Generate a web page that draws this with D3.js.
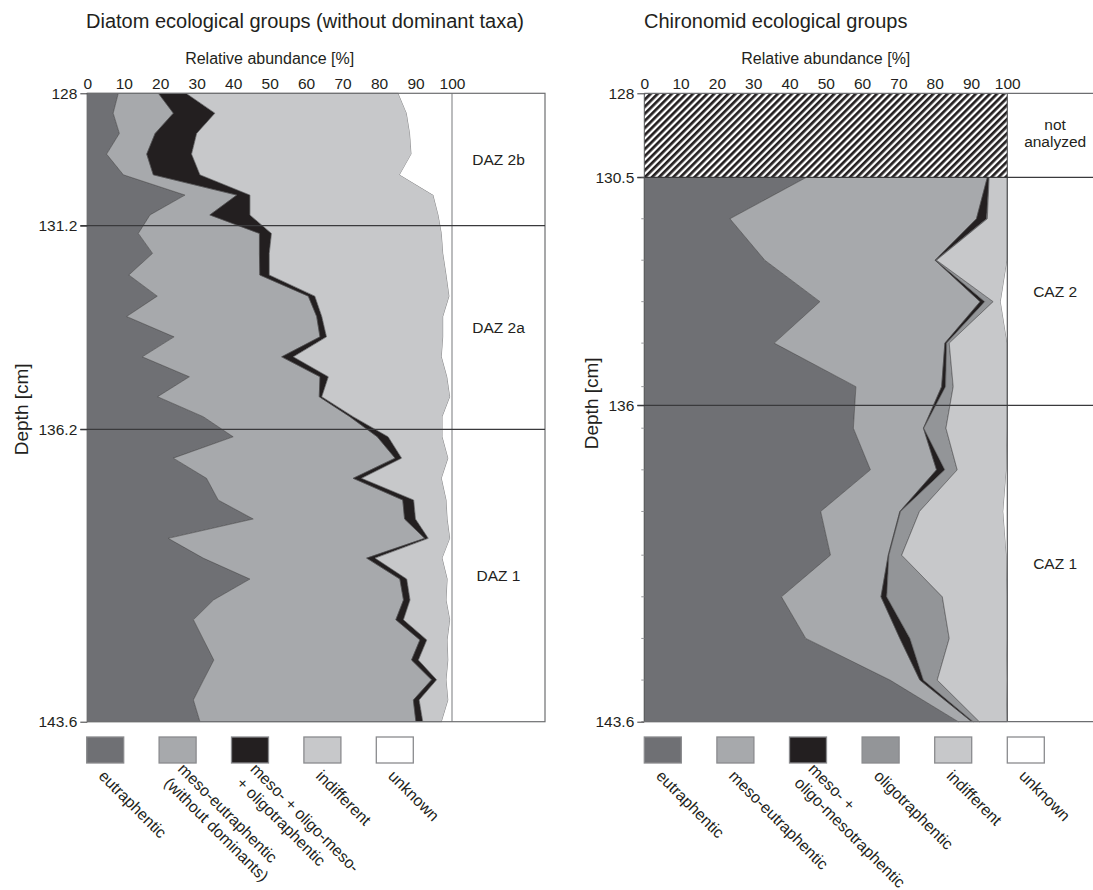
<!DOCTYPE html>
<html><head><meta charset="utf-8">
<script src="https://cdn.jsdelivr.net/npm/d3@7"></script>
<style>
body{margin:0;background:#fff}
svg{display:block}
text{font-family:"Liberation Sans",Arial,Helvetica,sans-serif;fill:#231f20}
</style>
</head><body>
<svg id="chart" width="1093" height="890"></svg>
<script>
// ---------- DATA ----------
// Diatom samples (depth, cm)
const diatomDepths = [128.00,128.48,128.97,129.47,129.97,130.46,130.94,131.39,131.88,132.41,132.93,133.43,133.93,134.42,134.91,135.40,135.89,136.39,136.93,137.44,137.99,138.47,138.96,139.46,139.99,140.52,141.02,141.53,142.04,142.54,143.05,143.60];
const diatomEutraphentic = [8.5,7.1,8.8,5.3,9.9,26.8,17.2,14.0,17.9,11.4,19.2,10.8,23.8,15.1,28.0,19.3,31.8,40.0,23.6,32.7,35.9,45.5,22.2,31.8,44.6,34.6,29.1,31.9,34.7,31.9,29.1,30.9];
const diatomMesoEutraphentic = [11.0,16.5,9.8,11.0,8.2,14.2,16.4,33.2,29.3,35.9,41.4,52.1,40.0,38.2,35.8,44.3,40.2,39.5,60.8,40.2,50.6,41.5,70.3,44.8,41.1,52.1,55.5,59.3,54.2,62.5,60.3,59.2];
const diatomMesoOligo = [7.6,11.4,11.4,12.3,12.8,3.6,11.0,3.3,2.7,2.6,1.8,1.4,1.8,3.2,2.3,0.7,0.9,3.0,1.8,2.3,3.0,3.0,1.0,2.3,1.9,1.8,2.1,1.9,1.9,1.4,1.6,1.9];
const diatomIndifferent = [58.2,52.6,58.5,60.3,54.8,50.3,51.7,46.7,47.7,48.6,36.9,33.3,32.0,40.7,32.6,35.2,24.5,14.9,12.8,22.0,9.0,8.8,6.0,18.5,11.2,10.0,12.8,5.7,8.2,2.7,8.0,5.2];
const diatomUnknown = [14.7,12.4,11.5,11.1,14.3,5.1,3.7,2.8,2.4,1.5,0.7,2.4,2.4,2.8,1.3,0.5,2.6,2.6,1.0,2.8,1.5,1.2,0.5,2.6,1.2,1.5,0.5,1.2,1.0,1.5,1.0,2.8];
const diatomZoneBounds = [131.2,136.2];
const diatomZones = [{name:"DAZ 2b",from:128,to:131.2},{name:"DAZ 2a",from:131.2,to:136.2},{name:"DAZ 1",from:136.2,to:143.6}];
const diatomDepthTicks = [128,131.2,136.2,143.6];

// Chironomid samples
const chiroDepths = [130.5,131.5,132.5,133.5,134.5,135.55,136.55,137.55,138.55,139.6,140.6,141.6,142.6,143.6];
const chiroEutraphentic = [44.7,23.6,33.2,48.4,35.8,58.3,57.6,62.3,48.6,51.3,37.8,44.5,67.7,86.5];
const chiroMesoEutraphentic = [49.8,67.9,46.9,44.1,47.0,23.6,19.3,18.2,21.8,15.9,27.4,25.9,8.2,3.7];
const chiroMesoOligoMeso = [0.5,2.8,0.2,1.3,0.5,1.1,0.1,2.3,0.2,0.2,1.6,2.8,1.0,0.4];
const chiroOligotraphentic = [0.0,0.2,0.2,2.3,0.7,2.1,6.1,3.4,5.2,3.5,15.3,10.8,3.8,1.7];
const chiroIndifferent = [5.0,5.5,19.5,2.1,16.0,14.9,16.9,13.6,23.1,28.9,17.9,16.0,19.1,7.7];
const chiroUnknown = [0,0,0,1.8,0,0,0,0.2,1.1,0.2,0,0,0.2,0];
const chiroNotAnalyzed = [128,130.5];
const chiroZoneBounds = [130.5,136];
const chiroZones = [{name:"CAZ 2",from:130.5,to:136},{name:"CAZ 1",from:136,to:143.6}];
const chiroDepthTicks = [128,130.5,136,143.6];

const xTicks = [0,10,20,30,40,50,60,70,80,90,100];

const diatomLegend = [
  {key:"eu", lines:["eutraphentic"]},
  {key:"me", lines:["meso-eutraphentic","(without dominants)"]},
  {key:"mo", lines:["meso- + oligo-meso-","+ oligotraphentic"]},
  {key:"in", lines:["indifferent"]},
  {key:"un", lines:["unknown"]}
];
const chiroLegend = [
  {key:"eu", lines:["eutraphentic"]},
  {key:"me", lines:["meso-eutraphentic"]},
  {key:"mo", lines:["meso- +","oligo-mesotraphentic"]},
  {key:"ol", lines:["oligotraphentic"]},
  {key:"in", lines:["indifferent"]},
  {key:"un", lines:["unknown"]}
];

// ---------- STYLE ----------
const colors = {eu:"#6f7074", me:"#a7a9ac", mo:"#231f20", ol:"#939598", in:"#c7c8ca", un:"#ffffff"};

const svg = d3.select("#chart");
const defs = svg.append("defs");
const pat = defs.append("pattern").attr("id","hatch").attr("width",5).attr("height",5)
  .attr("patternUnits","userSpaceOnUse").attr("patternTransform","rotate(45)");
pat.append("rect").attr("width",5).attr("height",5).attr("fill","#fff");
pat.append("rect").attr("width",2.7).attr("height",5).attr("fill","#231f20");

function drawPanel(opt){
  const g = svg.append("g");
  const x = d3.scaleLinear().domain([0,100]).range([opt.x0, opt.x1]);
  const y = d3.scaleLinear().domain(opt.yDomain).range(opt.yRange);
  const rows = opt.depths.map((d,i)=>{
    const r = {depth:d};
    opt.keys.forEach(k=>{ r[k] = opt.series[k][i]; });
    return r;
  });
  const stack = d3.stack().keys(opt.keys)(rows);
  const area = d3.area().y(d=>y(d.data.depth)).x0(d=>x(d[0])).x1(d=>x(d[1]));
  g.selectAll("path.layer").data(stack).join("path").attr("class","layer")
    .attr("d",area)
    .attr("fill",d=>colors[d.key])
    .attr("stroke",d=>d.key==="un"?"none":"#505153")
    .attr("stroke-width",0.6)
    .attr("stroke-linejoin","miter");
  return {g,x,y};
}

// ---------- LEFT PANEL: Diatoms ----------
const L = drawPanel({
  x0:87.3, x1:452, yDomain:[128,131.2,136.2,143.6], yRange:[93.3,225.7,429.3,721.7],
  depths:diatomDepths, keys:["eu","me","mo","in","un"],
  series:{eu:diatomEutraphentic, me:diatomMesoEutraphentic, mo:diatomMesoOligo, in:diatomIndifferent, un:diatomUnknown}
});
const Lright = 545;
L.g.append("line").attr("x1",L.x(100)).attr("x2",L.x(100)).attr("y1",L.y(128)).attr("y2",L.y(143.6))
  .attr("stroke","#8e8f92").attr("stroke-width",1.2);
L.g.append("rect").attr("x",L.x(0)).attr("y",L.y(128)).attr("width",Lright-L.x(0)).attr("height",L.y(143.6)-L.y(128))
  .attr("fill","none").attr("stroke","#6d6e71").attr("stroke-width",1.2);
L.g.selectAll("line.zone").data(diatomZoneBounds).join("line").attr("class","zone")
  .attr("x1",L.x(0)-7).attr("x2",Lright).attr("y1",d=>L.y(d)).attr("y2",d=>L.y(d))
  .attr("stroke","#3a3a3c").attr("stroke-width",1.2);
L.g.selectAll("text.zl").data(diatomZones).join("text").attr("class","zl")
  .attr("x",(L.x(100)+Lright)/2).attr("y",d=>(L.y(d.from)+L.y(d.to))/2).attr("dy","0.35em")
  .attr("text-anchor","middle").attr("font-size",15.5).text(d=>d.name);
const LxAxis = L.g.append("g").attr("transform",`translate(0,${L.y(128)})`)
  .call(d3.axisTop(L.x).tickValues(xTicks).tickSize(0).tickPadding(4));
LxAxis.select(".domain").remove();
LxAxis.selectAll("text").attr("font-size",15.5).attr("font-family",null).style("fill","#231f20");
const LyAxis = L.g.append("g").attr("transform",`translate(${L.x(0)},0)`)
  .call(d3.axisLeft(L.y).tickValues(diatomDepthTicks).tickFormat(d=>d).tickSize(7).tickPadding(3));
LyAxis.select(".domain").remove();
LyAxis.selectAll("line").attr("stroke","#3a3a3c");
LyAxis.selectAll("text").attr("font-size",15.5).attr("font-family",null).style("fill","#231f20");
svg.append("text").attr("x",86).attr("y",28).attr("font-size",20).text("Diatom ecological groups (without dominant taxa)");
svg.append("text").attr("x",(L.x(0)+L.x(100))/2).attr("y",64).attr("text-anchor","middle").attr("font-size",16).text("Relative abundance [%]");
svg.append("text").attr("transform",`translate(28,${L.y(136.2)-20}) rotate(-90)`).attr("text-anchor","middle").attr("font-size",19).text("Depth [cm]");

// ---------- RIGHT PANEL: Chironomids ----------
const R = drawPanel({
  x0:644.3, x1:1007.3, yDomain:[128,130.5,136,143.6], yRange:[93.3,177.3,405.3,721.7],
  depths:chiroDepths, keys:["eu","me","mo","ol","in","un"],
  series:{eu:chiroEutraphentic, me:chiroMesoEutraphentic, mo:chiroMesoOligoMeso, ol:chiroOligotraphentic, in:chiroIndifferent, un:chiroUnknown}
});
const Rright = 1093;
R.g.append("rect").attr("x",R.x(0)).attr("y",R.y(chiroNotAnalyzed[0])).attr("width",R.x(100)-R.x(0))
  .attr("height",R.y(chiroNotAnalyzed[1])-R.y(chiroNotAnalyzed[0])).attr("fill","url(#hatch)");
R.g.append("line").attr("x1",R.x(100)).attr("x2",R.x(100)).attr("y1",R.y(128)).attr("y2",R.y(143.6))
  .attr("stroke","#58595b").attr("stroke-width",1.2);
R.g.append("line").attr("x1",R.x(0)).attr("x2",R.x(0)).attr("y1",R.y(128)).attr("y2",R.y(143.6))
  .attr("stroke","#58595b").attr("stroke-width",1);
R.g.selectAll("line.tb").data([128,143.6]).join("line").attr("class","tb")
  .attr("x1",R.x(0)).attr("x2",Rright).attr("y1",d=>R.y(d)).attr("y2",d=>R.y(d))
  .attr("stroke","#6d6e71").attr("stroke-width",1.2);
R.g.selectAll("line.zone").data(chiroZoneBounds).join("line").attr("class","zone")
  .attr("x1",R.x(0)-7).attr("x2",Rright).attr("y1",d=>R.y(d)).attr("y2",d=>R.y(d))
  .attr("stroke","#3a3a3c").attr("stroke-width",1.2);
R.g.selectAll("line.mt").data(chiroDepths).join("line").attr("class","mt")
  .attr("x1",R.x(0)-3).attr("x2",R.x(0)).attr("y1",d=>R.y(d)).attr("y2",d=>R.y(d))
  .attr("stroke","#9a9b9e").attr("stroke-width",1);
const zx = (R.x(100)+1103)/2;
R.g.selectAll("text.zl").data(chiroZones).join("text").attr("class","zl")
  .attr("x",zx).attr("y",d=>(R.y(d.from)+R.y(d.to))/2).attr("dy","0.35em")
  .attr("text-anchor","middle").attr("font-size",15.5).text(d=>d.name);
const naMid = (R.y(chiroNotAnalyzed[0])+R.y(chiroNotAnalyzed[1]))/2;
const na = R.g.append("text").attr("text-anchor","middle").attr("font-size",15.5);
na.append("tspan").attr("x",zx).attr("y",naMid-5).text("not");
na.append("tspan").attr("x",zx).attr("y",naMid+12).text("analyzed");
const RxAxis = R.g.append("g").attr("transform",`translate(0,${R.y(128)})`)
  .call(d3.axisTop(R.x).tickValues(xTicks).tickSize(0).tickPadding(4));
RxAxis.select(".domain").remove();
RxAxis.selectAll("text").attr("font-size",15.5).attr("font-family",null).style("fill","#231f20");
const RyAxis = R.g.append("g").attr("transform",`translate(${R.x(0)},0)`)
  .call(d3.axisLeft(R.y).tickValues(chiroDepthTicks).tickFormat(d=>d).tickSize(7).tickPadding(3));
RyAxis.select(".domain").remove();
RyAxis.selectAll("line").attr("stroke","#3a3a3c");
RyAxis.selectAll("text").attr("font-size",15.5).attr("font-family",null).style("fill","#231f20");
svg.append("text").attr("x",644).attr("y",28).attr("font-size",20).text("Chironomid ecological groups");
svg.append("text").attr("x",(R.x(0)+R.x(100))/2).attr("y",64).attr("text-anchor","middle").attr("font-size",16).text("Relative abundance [%]");
svg.append("text").attr("transform",`translate(598,${R.y(136)-2}) rotate(-90)`).attr("text-anchor","middle").attr("font-size",19).text("Depth [cm]");

// ---------- LEGENDS ----------
function drawLegend(items, x0, step){
  const g = svg.append("g");
  items.forEach((it,i)=>{
    const bx = x0 + i*step;
    g.append("rect").attr("x",bx).attr("y",737).attr("width",37).attr("height",26)
      .attr("fill",colors[it.key]).attr("stroke","#8a8b8e").attr("stroke-width",1.3);
    const t = g.append("text").attr("transform",`translate(${bx+11},${777}) rotate(45)`).attr("font-size",16);
    const n = it.lines.length;
    it.lines.forEach((ln,j)=>{
      t.append("tspan").attr("x",0).attr("y",(j-(n-1)/2)*19.5).text(ln);
    });
  });
}
drawLegend(diatomLegend, 86.7, 72.4);
drawLegend(chiroLegend, 644.3, 72.6);
</script>
</body></html>
